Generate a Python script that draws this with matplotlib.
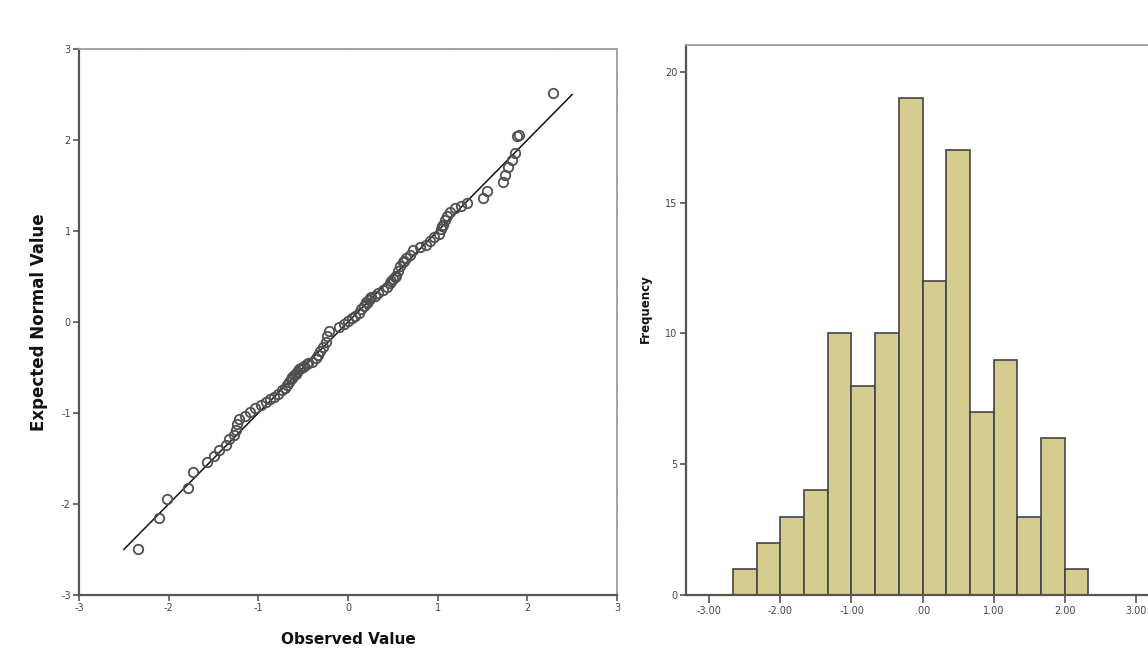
import numpy as np
import matplotlib
matplotlib.use("Agg")
import matplotlib.pyplot as plt

# ---- Data: Normal Q-Q plot (observed vs expected normal value) ----
observed = [-2.34, -2.11, -2.02, -1.78, -1.73, -1.57, -1.50, -1.44, -1.36, -1.33,
            -1.27, -1.25, -1.24, -1.22, -1.15, -1.09, -1.04, -0.97, -0.91, -0.87,
            -0.82, -0.78, -0.74, -0.70, -0.68, -0.66, -0.64, -0.63, -0.62, -0.60,
            -0.58, -0.57, -0.55, -0.52, -0.50, -0.49, -0.46, -0.45, -0.40, -0.36,
            -0.33, -0.31, -0.28, -0.24, -0.23, -0.21, -0.10, -0.04, 0.00, 0.04,
            0.08, 0.12, 0.15, 0.18, 0.20, 0.21, 0.23, 0.25, 0.26, 0.30,
            0.34, 0.39, 0.43, 0.47, 0.48, 0.50, 0.52, 0.53, 0.56, 0.58,
            0.61, 0.62, 0.65, 0.69, 0.72, 0.80, 0.87, 0.92, 0.96, 1.01,
            1.04, 1.05, 1.06, 1.08, 1.10, 1.14, 1.19, 1.26, 1.33, 1.51,
            1.55, 1.73, 1.75, 1.78, 1.83, 1.86, 1.89, 1.91, 2.29]
expected = [-2.49, -2.15, -1.95, -1.82, -1.65, -1.54, -1.47, -1.41, -1.35, -1.29,
            -1.24, -1.19, -1.12, -1.07, -1.03, -0.99, -0.95, -0.91, -0.88, -0.85,
            -0.82, -0.79, -0.75, -0.72, -0.69, -0.66, -0.63, -0.62, -0.60, -0.58,
            -0.57, -0.55, -0.52, -0.50, -0.49, -0.48, -0.46, -0.45, -0.44, -0.40,
            -0.36, -0.32, -0.27, -0.22, -0.15, -0.10, -0.05, -0.02, 0.01, 0.04,
            0.07, 0.10, 0.14, 0.18, 0.22, 0.21, 0.24, 0.26, 0.27, 0.29,
            0.32, 0.35, 0.39, 0.43, 0.45, 0.47, 0.50, 0.51, 0.56, 0.62,
            0.66, 0.67, 0.70, 0.74, 0.79, 0.82, 0.85, 0.89, 0.93, 0.97,
            1.02, 1.05, 1.07, 1.12, 1.17, 1.21, 1.25, 1.28, 1.31, 1.36,
            1.44, 1.54, 1.62, 1.70, 1.78, 1.86, 2.04, 2.06, 2.52]
ref_line_x = [-2.5, 2.5]
ref_line_y = [-2.5, 2.5]
qq_ticks = [-3, -2, -1, 0, 1, 2, 3]
qq_ticklabels = ["-3", "-2", "-1", "0", "1", "2", "3"]

# ---- Data: histogram ----
bin_edges = [-8/3, -7/3, -2, -5/3, -4/3, -1, -2/3, -1/3, 0, 1/3, 2/3, 1, 4/3, 5/3, 2, 7/3]
counts = [1, 2, 3, 4, 10, 8, 10, 19, 12, 17, 7, 9, 3, 6, 1]
hist_xticks = [-3, -2, -1, 0, 1, 2, 3]
hist_xticklabels = ["-3.00", "-2.00", "-1.00", ".00", "1.00", "2.00", "3.00"]
hist_yticks = [0, 5, 10, 15, 20]
hist_yticklabels = ["0", "5", "10", "15", "20"]

W, H = 1148, 668
fig = plt.figure(figsize=(W / 100, H / 100), dpi=100, facecolor="white")

def style_axes(ax):
    for s in ("left", "bottom"):
        ax.spines[s].set_color("#555555")
        ax.spines[s].set_linewidth(1.6)
    for s in ("top", "right"):
        ax.spines[s].set_color("#a0a0a0")
        ax.spines[s].set_linewidth(1.3)
        ax.spines[s].set_linestyle((0, (1, 0.8)))
    ax.tick_params(direction="out", length=4, width=1.2, color="#555555",
                   labelsize=7, labelcolor="#444444", pad=2)
    ax.set_facecolor("white")

# Left: Q-Q plot
ax1 = fig.add_axes([79 / W, 1 - 595 / H, 538 / W, 546 / H])
style_axes(ax1)
ax1.plot(ref_line_x, ref_line_y, color="#111111", lw=1.1, zorder=2)
ax1.plot(observed, expected, linestyle="none", marker="o", markersize=6.8,
         markerfacecolor="none", markeredgecolor="#505050", markeredgewidth=1.3, zorder=3)
ax1.set_xlim(-3, 3)
ax1.set_ylim(-3, 3)
ax1.set_xticks(qq_ticks)
ax1.set_xticklabels(qq_ticklabels)
ax1.set_yticks(qq_ticks)
ax1.set_yticklabels(qq_ticklabels)
ax1.set_xlabel("Observed Value", fontsize=11, fontweight="bold", color="#111111")
ax1.set_ylabel("Expected Normal Value", fontsize=12, fontweight="bold", color="#111111")
ax1.xaxis.set_label_coords(0.5, -0.068)
ax1.yaxis.set_label_coords(-0.058, 0.5)

# Right: histogram
ax2 = fig.add_axes([686 / W, 1 - 595 / H, 473 / W, 550 / H])
style_axes(ax2)
edges = np.array(bin_edges)
widths = np.diff(np.append(edges, edges[-1] + (edges[-1] - edges[-2])))[:len(counts)]
ax2.bar(edges[:len(counts)], counts, width=widths, align="edge",
        color="#d5cd8f", edgecolor="#444444", linewidth=1.2, zorder=2)
ax2.set_xlim(-3.33, 3.33)
ax2.set_ylim(0, 21.03)
ax2.set_xticks(hist_xticks)
ax2.set_xticklabels(hist_xticklabels)
ax2.set_yticks(hist_yticks)
ax2.set_yticklabels(hist_yticklabels)
ax2.tick_params(axis="x", length=6)
ax2.set_ylabel("Frequency", fontsize=8.5, fontweight="bold", color="#111111")
ax2.yaxis.set_label_coords(-0.072, 0.52)

fig.savefig("out.png", dpi=100, facecolor="white")
